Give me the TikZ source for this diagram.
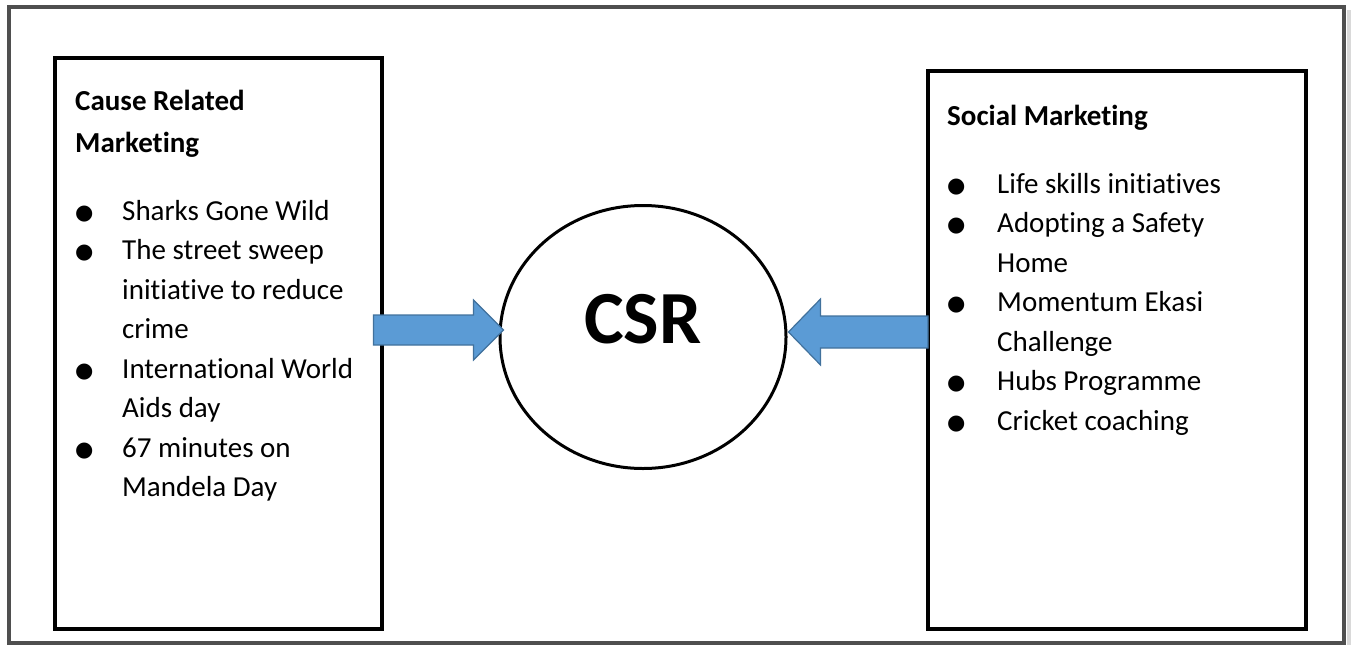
\documentclass[tikz,border=0pt]{standalone}
\usepackage{fontspec}
\setmainfont{Carlito}[RawFeature=-liga]
\newfontfamily\bulletfont{DejaVu Sans}
\usetikzlibrary{calc}
\usetikzlibrary{shapes.geometric}
\usetikzlibrary{positioning}
\definecolor{framegray}{HTML}{4F4F4F}
\definecolor{shadowgray}{HTML}{D9D9D9}
\definecolor{arrowblue}{HTML}{5B9BD5}
\definecolor{arrowedge}{HTML}{41719C}
\newcommand{\itembullet}{\raisebox{1pt}{\bulletfont\fontsize{21}{21}\selectfont\char"25CF}}
\tikzset{
  outerframe/.style={draw=framegray, line width=3.5pt},
  panel/.style={rectangle, draw, line width=3.5pt, anchor=north west, inner sep=0pt},
  hub/.style={ellipse, draw, line width=3pt, minimum width=286pt, minimum height=263pt},
  listtext/.style={anchor=base west, inner sep=0pt, font=\fontsize{29}{39.5}\selectfont},
  blockarrow/.style={fill=arrowblue, draw=arrowedge, line width=1.2pt, line join=miter}
  }

\begin{document}
\begin{tikzpicture}[x=1pt, y=-1pt]
	\useasboundingbox (0,0) rectangle (1351,645);
	% Frame
	\draw[shadowgray, line width=4pt] (1349,10) -- (1349,645);
	\draw[outerframe] (9,7) rectangle (1344,643);

	% Nodes
	\node[panel, minimum width=327pt, minimum height=571pt] (causebox) at (53,56) {};
	\node[panel, minimum width=378pt, minimum height=558pt] (socialbox) at (926,69) {};
	\node[hub] (csr) at (643,337) {};
	\node[font=\fontsize{75}{75}\selectfont\bfseries] (csrlabel) at ($(csr.center)+(0,-18)$) {CSR};

	\node[listtext] (causelist) at ($(causebox.north west)+(22,54)$) {%
	\begin{tabular}[t]{@{}p{47pt}@{}l@{}}
	\multicolumn{2}{@{}l@{}}{\bfseries Cause Related}\\[2.5pt]
	\multicolumn{2}{@{}l@{}}{\bfseries Marketing}\\[28.5pt]
	\itembullet & Sharks Gone Wild\\
	\itembullet & The street sweep\\
	 & initiative to reduce\\
	 & crime\\
	\itembullet & International World\\
	 & Aids day\\
	\itembullet & 67 minutes on\\
	 & Mandela Day
	\end{tabular}};

	\node[listtext] (sociallist) at ($(socialbox.north west)+(21,56)$) {%
	\begin{tabular}[t]{@{}p{50pt}@{}l@{}}
	\multicolumn{2}{@{}l@{}}{\bfseries Social Marketing}\\[28.5pt]
	\itembullet & Life skills initiatives\\
	\itembullet & Adopting a Safety\\
	 & Home\\
	\itembullet & Momentum Ekasi\\
	 & Challenge\\
	\itembullet & Hubs Programme\\
	\itembullet & Cricket coaching
	\end{tabular}};

	% Arrows
	\coordinate (causetip) at ($(csr.west)+(5,-7)$);
	\coordinate (socialtip) at ($(csr.east)+(1,-5)$);
	\draw[blockarrow] ($(causebox.east |- causetip)+(-10,-15)$) -- ($(causetip)+(-30,-15)$)
		-- ($(causetip)+(-30,-30)$) -- (causetip) -- ($(causetip)+(-30,30)$)
		-- ($(causetip)+(-30,15)$) -- ($(causebox.east |- causetip)+(-10,15)$) -- cycle;
	\draw[blockarrow] ($(socialbox.west |- socialtip)+(2,-16)$) -- ($(socialtip)+(32,-16)$)
		-- ($(socialtip)+(32,-33)$) -- (socialtip) -- ($(socialtip)+(32,33)$)
		-- ($(socialtip)+(32,16)$) -- ($(socialbox.west |- socialtip)+(2,16)$) -- cycle;
\end{tikzpicture}
\end{document}
